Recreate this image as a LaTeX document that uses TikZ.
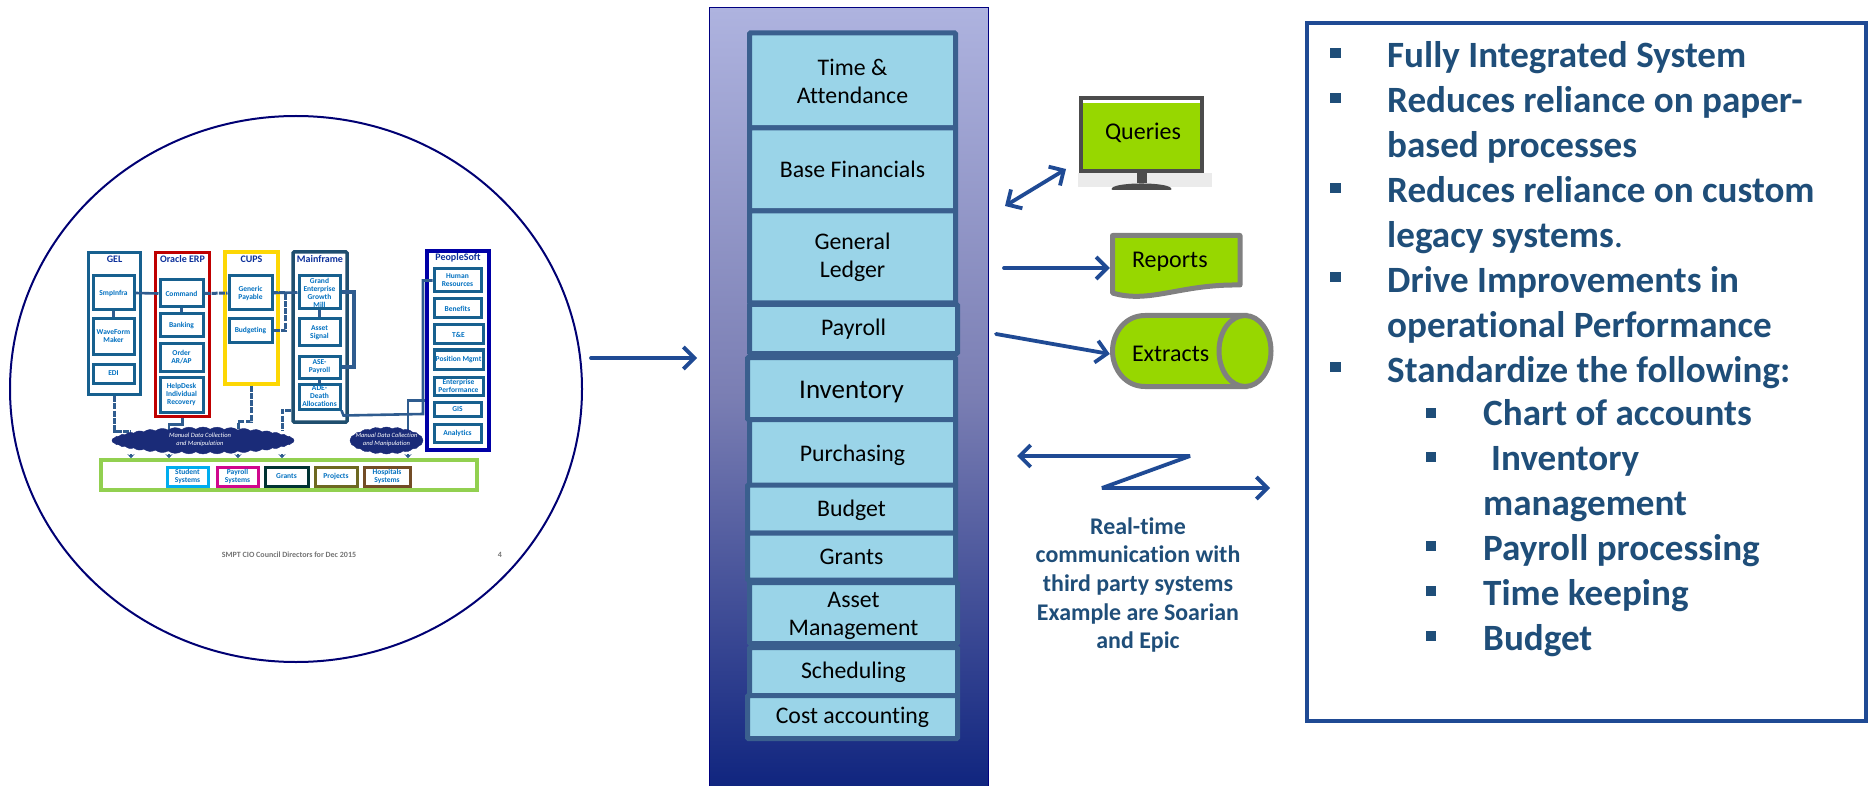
\documentclass[tikz,border=0pt]{standalone}
\usepackage{fontspec}
\setmainfont{Carlito}[Ligatures=CommonOff]
\usepackage{xcolor}
\usetikzlibrary{arrows.meta,positioning,shapes.geometric,shapes.symbols}
\definecolor{arrow-blue}{HTML}{1F4A94}
\definecolor{text-blue}{HTML}{1F4E79}
\definecolor{column-edge}{HTML}{3A5F8E}
\definecolor{column-fill}{HTML}{9AD4E8}
\definecolor{screen-green}{HTML}{97D700}
\definecolor{small-blue}{HTML}{0070C0}
\definecolor{small-edge}{HTML}{17608F}
\definecolor{small-link}{HTML}{2F5C8F}
\definecolor{main-edge}{HTML}{1F4E6E}
\definecolor{cloud-navy}{HTML}{1A2B78}
\definecolor{panel-top}{HTML}{AEB3DF}
\definecolor{panel-mid}{HTML}{7A7EB3}
\definecolor{panel-bottom}{HTML}{10257F}
\definecolor{bar-green}{HTML}{92D050}
\definecolor{title-navy}{HTML}{0B2F9A}
\newcommand{\nudge}[2]{\raisebox{#1}[\height][\depth]{#2}}
\tikzset{
    column-box/.style = {draw=column-edge, fill=column-fill, line width=5pt, rectangle, rounded corners=1pt, inner sep=0pt, align=center, font=\fontsize{23.8}{28}\selectfont},
    flow-arrow/.style = {draw=arrow-blue, line width=3.8pt, line cap=round, line join=bevel, {Straight Barb[length=11pt,width=22pt,line width=3.8pt]}-{Straight Barb[length=11pt,width=22pt,line width=3.8pt]}},
    head-arrow/.style = {draw=arrow-blue, line width=3.8pt, line cap=round, -{Straight Barb[length=11pt,width=22pt,line width=3.8pt]}},
    output-shape/.style = {draw=black!50, fill=screen-green, line width=5pt, font=\fontsize{24}{29}\selectfont},
    system-box/.style = {draw=small-edge, fill=white, line width=3.5pt, rectangle, inner sep=0pt},
    system-title/.style = {inner sep=0pt, text=title-navy, font=\bfseries\fontsize{10}{10}\selectfont},
    small-box/.style = {draw=small-edge, fill=white, line width=3pt, rectangle, inner sep=0pt, align=center, text=small-blue, font=\bfseries\fontsize{7.5}{8}\selectfont},
    small-link/.style = {draw=small-link, line width=3pt, dash pattern=on 6pt off 1.2pt},
    small-bus/.style = {draw=small-link, line width=2.6pt},
    small-drop/.style = {draw=small-link, line width=2.6pt, -{Stealth[length=4pt,width=7pt]}},
    data-cloud/.style = {draw=cloud-navy, fill=cloud-navy, cloud, cloud puffs=40, cloud puff arc=70, aspect=7, inner sep=0pt},
    cloud-text/.style = {inner sep=0pt, align=center, text=white, font=\itshape\fontsize{6.5}{8.5}\selectfont},
    list-bullet/.style = {fill=text-blue, rectangle, minimum size=10.5pt, inner sep=0pt},
    list-text/.style = {inner sep=0pt, align=left, text=text-blue, font=\bfseries\fontsize{37.1}{45}\selectfont},
}
\begin{document}
\begin{tikzpicture}[x=1pt,y=-1pt]
\useasboundingbox (0,0) rectangle (1869,786);

\node [draw=blue!45!black, line width=2pt, ellipse, minimum width=572, minimum height=546, inner sep=0pt] (lens) at (296,389) {};

\node [system-box, minimum width=52, minimum height=142] (gel) at (114.5,323.5) {};
\node [system-title, below=5pt] (gel-title) at (gel.north) {GEL};
\node [small-box, minimum width=41, minimum height=34] (gel-a) at (113.5,293) {SmpInfra};
\node [small-box, minimum width=41, minimum height=35] (gel-b) at (113.5,336.5) {WaveForm\\Maker};
\node [small-box, minimum width=41, minimum height=19] (gel-c) at (113.5,373.5) {EDI};

\node [system-box, draw=red!75!black, minimum width=54, minimum height=164] (oracle) at (182.5,334.5) {};
\node [system-title, below=5pt] (oracle-title) at (oracle.north) {Oracle ERP};
\node [small-box, minimum width=43, minimum height=27] (command) at (181.5,293.5) {Command};
\node [small-box, minimum width=43, minimum height=23] (banking) at (181.5,325.5) {Banking};
\node [small-box, minimum width=43, minimum height=27] (order) at (181.5,357.5) {Order\\AR/AP};
\node [small-box, minimum width=43, minimum height=35] (helpdesk) at (181.5,394.5) {HelpDesk\\Individual\\Recovery};

\node [system-box, draw=yellow!75!orange, minimum width=53, minimum height=132] (cups) at (251.5,318) {};
\node [system-title, below=5pt] (cups-title) at (cups.north) {CUPS};
\node [small-box, minimum width=43, minimum height=34] (payable) at (250.5,293) {Generic\\Payable};
\node [small-box, minimum width=43, minimum height=24] (budgeting) at (250.5,331) {Budgeting};

\node [system-box, draw=main-edge, rounded corners=1pt, minimum width=54, minimum height=170] (main) at (320,337) {};
\node [system-title, below=5pt] (main-title) at (main.north) {Mainframe};
\node [small-box, minimum width=41, minimum height=33] (grand) at (319.5,292.5) {Grand\\Enterprise\\Growth\\Mill};
\node [small-box, minimum width=41, minimum height=27] (asset-sig) at (319.5,332.5) {Asset\\Signal};
\node [small-box, minimum width=41, minimum height=22] (ase) at (319.5,367) {ASE-\\Payroll};
\node [small-box, minimum width=41, minimum height=25] (ade) at (319.5,396.5) {ADE-\\Death\\Allocations};

\node [system-box, draw=blue!65!black, minimum width=62, minimum height=199] (people) at (458,350.5) {};
\node [system-title, below=4pt] (people-title) at (people.north) {PeopleSoft};
\node [small-box, minimum width=47, minimum height=23] (human) at (457.5,280.5) {Human\\Resources};
\node [small-box, minimum width=47, minimum height=19] (benefits) at (457.5,308.5) {Benefits};
\node [small-box, minimum width=49, minimum height=19] (tande) at (458.5,334.5) {T\&E};
\node [small-box, minimum width=49, minimum height=19] (position) at (458.5,359.5) {Position Mgmt};
\node [small-box, minimum width=49, minimum height=18] (perform) at (458.5,386) {Enterprise\\Performance};
\node [small-box, minimum width=47, minimum height=14] (gis) at (457.5,409) {GIS};
\node [small-box, minimum width=47, minimum height=18] (analytics) at (457.5,433) {Analytics};

\node [system-box, draw=bar-green, minimum width=376, minimum height=30] (bar) at (289,475) {};
\node [small-box, draw=cyan, minimum width=41, minimum height=19] (student) at (187.5,476.5) {Student\\Systems};
\node [small-box, draw=magenta!85!blue, minimum width=41, minimum height=19] (payroll-sys) at (237.5,476.5) {Payroll\\Systems};
\node [small-box, draw=black!60!teal, minimum width=43, minimum height=19] (grants-sys) at (286.5,476.5) {Grants};
\node [small-box, draw=olive!70!black, minimum width=42, minimum height=19] (projects) at (336,476.5) {Projects};
\node [small-box, draw=brown!60!black, minimum width=46, minimum height=19] (hospital) at (387,476.5) {Hospitals\\Systems};

\coordinate (drop-a) at (131,431);
\coordinate (drop-b) at (169,431);
\coordinate (drop-c) at (238,431);
\coordinate (drop-d) at (282,431);
\coordinate (drop-e) at (408,431);
\coordinate (people-bus) at (423,414);
\draw [small-bus] (gel-a.east) -- (command.west);
\draw [small-link] (command.east) -- (payable.west);
\draw [small-bus] (payable.east) -- (grand.west);
\draw [small-link] (budgeting.east) -- ++(12,0) |- (payable.east);
\draw [small-bus] (gel-a.south) -- (gel-b.north);
\draw [small-bus] (command.south) -- (banking.north);
\draw [small-bus] (grand.south) -- (asset-sig.north);
\draw [small-bus] (ase.south) -- (ade.north);
\draw [small-bus, line width=4pt] (grand.east) -- ++(12,0) |- (ase.east);
\draw [small-link] (gel.south) |- (drop-a);
\draw [small-bus] (oracle.south) -- ++(0,6) -| (drop-b);
\draw [small-link] (cups.south) -- ++(0,36) -| (drop-c);
\draw [small-link] (main.west |- ade.south) -| (drop-d);
\draw [small-bus] (ade.south east) -- ++(2,5) -- (people-bus) |- (human.west);
\draw [small-bus] (people.west |- gis.north) -| (drop-e);

\node [data-cloud, minimum width=182, minimum height=27] (manual) at (203,440.5) {};
\node [cloud-text] (manual-text) at (200,440) {Manual Data Collection\\and Manipulation};
\node [data-cloud, cloud puffs=20, aspect=2.7, minimum width=73, minimum height=27] (manual-b) at (386.5,440.5) {};
\node [cloud-text] (manual-b-text) at (386.5,440) {Manual Data Collection\\and Manipulation};

\draw [small-drop] (drop-a |- manual.south) -- (drop-a |- bar.north);
\draw [small-drop] (drop-b |- manual.south) -- (drop-b |- bar.north);
\draw [small-drop] (drop-c |- manual.south) -- (drop-c |- bar.north);
\draw [small-drop] (drop-d |- manual.south) -- (drop-d |- bar.north);
\draw [small-drop] (drop-e |- manual-b.south) -- (drop-e |- bar.north);

\node [inner sep=0pt, text=black!55, font=\bfseries\fontsize{8}{9}\selectfont] (footer) at (289,555) {SMPT CIO Council Directors for Dec 2015};
\node [inner sep=0pt, text=black!55, font=\bfseries\fontsize{8}{9}\selectfont] (page-no) at (500,555) {4};

\node [draw=blue!50!black, line width=1.6pt, top color=panel-top, bottom color=panel-bottom, middle color=panel-mid, minimum width=279, minimum height=779, inner sep=0pt] (panel) at (849,397) {};

\node [column-box, minimum width=206, minimum height=95] (time) at (852.5,80.5) {\nudge{-1pt}{Time \&}\\\nudge{-1pt}{Attendance}};
\node [column-box, minimum width=206, minimum height=83] (base) at (852.5,169.5) {Base Financials};
\node [column-box, minimum width=206, minimum height=92] (ledger) at (852.5,257) {General\\Ledger};
\node [column-box, minimum width=208, minimum height=49] (payroll) at (853.5,329) {Payroll};
\node [column-box, minimum width=208, minimum height=62, font=\fontsize{27}{29}\selectfont] (inventory) at (851.5,388.5) {\nudge{-3.5pt}{Inventory}};
\node [column-box, minimum width=206, minimum height=66] (purchasing) at (852.5,452.5) {\nudge{-2.5pt}{Purchasing}};
\node [column-box, minimum width=208, minimum height=48] (budget) at (851.5,509) {\nudge{-1pt}{Budget}};
\node [column-box, minimum width=208, minimum height=47] (grants) at (851.5,556.5) {Grants};
\node [column-box, minimum width=208, minimum height=61] (asset) at (853.5,613) {\nudge{-2.5pt}{Asset}\\\nudge{-2.5pt}{Management}};
\node [column-box, minimum width=208, minimum height=48] (scheduling) at (853.5,671.5) {\nudge{-1pt}{Scheduling}};
\node [column-box, minimum width=210, minimum height=43] (cost) at (852.5,717) {Cost accounting};

\coordinate (lens-out) at (591,358);
\coordinate (panel-in) at (697,358);
\draw [head-arrow] (lens-out) -- (panel-in);

\node [fill=black!8, minimum width=134, minimum height=14, inner sep=0pt] (screen-shadow) at (1145,180) {};
\node [output-shape, draw=black!70, line width=3.5pt, rectangle, minimum width=121, minimum height=73, inner sep=0pt] (queries) at (1141.5,134.5) {\nudge{2pt}{\hspace*{3pt}Queries}};
\fill [white] (1083,100.5) rectangle (1200,103);
\fill [black!70] (1137,172) rectangle (1147,183);
\fill [black!70, rounded corners=3pt] (1110,190) .. controls (1118,182) and (1165,182) .. (1173,190) -- cycle;

\draw [output-shape, line join=round] (1112.5,235.5) -- (1240,235.5) -- (1240,285) .. controls (1180,284) and (1150,304) .. (1112.5,293) -- cycle;
\node [inner sep=0pt, inner xsep=22pt, text width=88pt, font=\fontsize{24}{29}\selectfont] (reports) at (1176,262) {Reports};

\draw [output-shape] (1245,315.5) -- (1145,315.5) .. controls (1125,315.5) and (1112.5,333) .. (1112.5,351) .. controls (1112.5,369) and (1125,386.5) .. (1145,386.5) -- (1245,386.5) -- cycle;
\node [output-shape, ellipse, minimum width=52, minimum height=71, inner sep=0pt] (extracts-end) at (1245,351) {};
\node [inner sep=0pt, inner xsep=22pt, text width=88pt, font=\fontsize{24}{29}\selectfont] (extracts) at (1176,354) {Extracts};

\coordinate (queries-tail) at (1005,206);
\coordinate (queries-head) at (1066,169);
\draw [flow-arrow] (queries-tail) -- (queries-head);
\coordinate (reports-tail) at (1004,268);
\draw [head-arrow] (reports-tail) -- (reports-tail -| reports.west);
\coordinate (extracts-tail) at (996,334);
\draw [head-arrow] (extracts-tail) -- (extracts.west);

\coordinate (link-left) at (1017,456);
\coordinate (link-top) at (1190,456);
\coordinate (link-low) at (1102,488);
\coordinate (link-right) at (1270,488);
\draw [flow-arrow, line cap=butt] (link-left) -- (link-top) -- (link-low) -- (link-right);
\node [inner sep=0pt, align=center, text=text-blue, font=\bfseries\fontsize{23.9}{28.7}\selectfont] (realtime) at (1138,585) {Real-time\\communication with\\third party systems\\Example are Soarian\\and Epic};

\node [draw=arrow-blue, line width=4pt, rectangle, minimum width=559, minimum height=698, inner sep=0pt] (features) at (1586.5,372) {};
\node [list-text, anchor=north west] (feature-list) at (1387,41) {Fully Integrated System\\Reduces reliance on paper-\\based processes\\Reduces reliance on custom\\legacy systems{\mdseries .}\\Drive Improvements in\\operational Performance\\Standardize the following:};
\node [list-text, anchor=north west] (standard-list) at (1483,399) {Chart of accounts\\\hspace*{8pt}Inventory\\management\\Payroll processing\\Time keeping\\Budget};
\foreach \y in {53,98,188,277,367}
    \node [list-bullet] (top-\y) at (1335.5,\y) {};
\foreach \y in {413,457,546,591,636}
    \node [list-bullet] (sub-\y) at (1431,\y) {};
\end{tikzpicture}
\end{document}
